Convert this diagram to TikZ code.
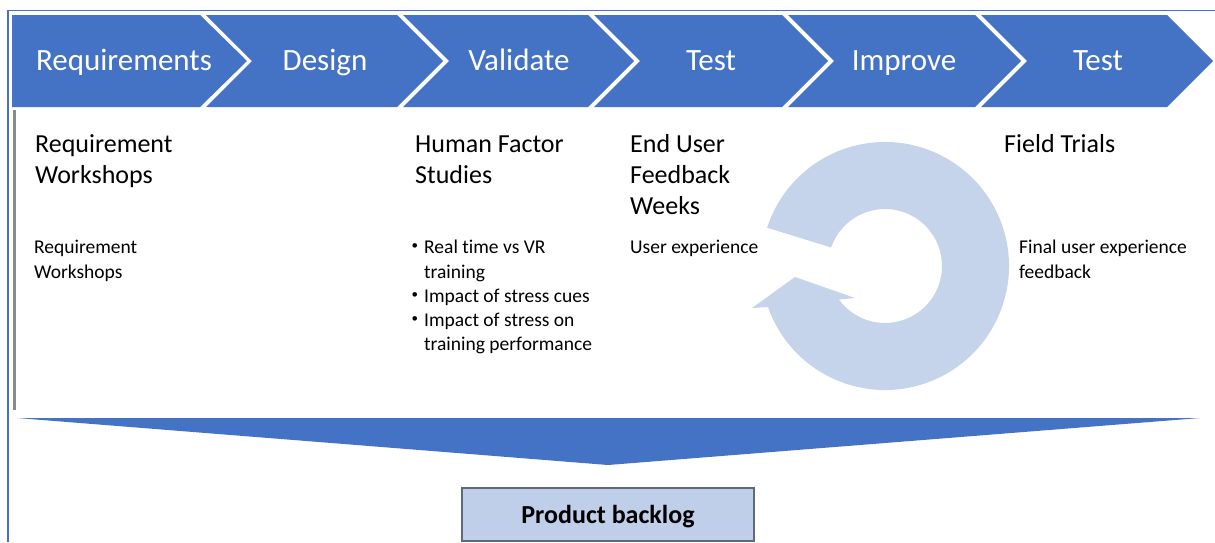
\documentclass[tikz,border=0pt]{standalone}
\usepackage{fontspec}
\setmainfont{Carlito}[Ligatures=NoCommon]
\usetikzlibrary{calc}
\definecolor{chevblue}{HTML}{4472C4}
\definecolor{ringblue}{HTML}{C5D3EB}
\definecolor{boxfill}{HTML}{BFCFEA}
\definecolor{boxline}{HTML}{5E6A78}
\definecolor{railgray}{HTML}{8A8A8A}
\begin{document}
\begin{tikzpicture}[x=1pt,y=-1pt,
  phase/.style={text=white, font=\fontsize{31}{37}\selectfont, anchor=base, inner sep=0},
  heading/.style={font=\fontsize{26}{31}\selectfont, anchor=base west, inner sep=0},
  note/.style={font=\fontsize{19.5}{24}\selectfont, anchor=base west, inner sep=0},
  bulletmark/.style={font=\fontsize{13}{15}\selectfont, anchor=base west, inner sep=0},
  backlogbox/.style={draw=boxline, fill=boxfill, line width=1.2pt, minimum width=292pt,
    minimum height=53pt, inner sep=0, font=\bfseries\fontsize{26}{30}\selectfont}]
\useasboundingbox (0,0) rectangle (1215,542);
\fill[white] (0,0) rectangle (1215,542);

% outer frame (left and top edges)
\draw[chevblue, line width=1.5pt] (8,542) -- (8,10.5) -- (1215,10.5);

% process chevrons
\fill[chevblue] (12,15) -- (200,15) -- (247,61) -- (200,107) -- (12,107) -- cycle;
\foreach \l/\r in {206/397, 403/588, 594/782, 788/975, 981/1167}
  \fill[chevblue] (\l,15) -- (\r,15) -- ({\r+46},61) -- (\r,107) -- (\l,107) -- ({\l+46},61) -- cycle;

\node[phase] (p1) at (124,70) {Requirements};
\node[phase] (p2) at (325,70) {Design};
\node[phase] (p3) at (519,70) {Validate};
\node[phase] (p4) at (711,70) {Test};
\node[phase] (p5) at (904,70) {Improve};
\node[phase] (p6) at (1098,70) {Test};

% grey rail on the left
\draw[railgray, line width=2.5pt] (14.5,110) -- (14.5,410);

% circular feedback arrow
\coordinate (c) at (885,266);
\fill[ringblue] ($(c)+(-162:124)$) -- ($(c)+(-161:57)$)
  arc[start angle=-161, end angle=144, radius=57]
  -- (855,298) -- (795,277) -- (752,308) -- ($(c)+(-199.3:124)$)
  arc[start angle=-199.3, end angle=-522, radius=124] -- cycle;

% headings
\node[heading] (h1a) at (35,152) {Requirement};
\node[heading] (h1b) at (35,183) {Workshops};
\node[heading] (h2a) at (415,152) {Human Factor};
\node[heading] (h2b) at (415,183) {Studies};
\node[heading] (h3a) at (630,152) {End User};
\node[heading] (h3b) at (630,183) {Feedback};
\node[heading] (h3c) at (630,214) {Weeks};
\node[heading] (h4a) at (1004,152) {Field Trials};

% notes
\node[note] (n1a) at (34,253) {Requirement};
\node[note] (n1b) at (34,278) {Workshops};
\node[bulletmark] (b1) at (411.5,249.5) {•};
\node[note] (n2a) at (424,253) {Real time vs VR};
\node[note] (n2b) at (424,278) {training};
\node[bulletmark] (b2) at (411.5,298.5) {•};
\node[note] (n2c) at (424,302) {Impact of stress cues};
\node[bulletmark] (b3) at (411.5,322.5) {•};
\node[note] (n2d) at (424,326) {Impact of stress on};
\node[note] (n2e) at (424,350) {training performance};
\node[note] (n3a) at (630,253) {User experience};
\node[note] (n4a) at (1019,253) {Final user experience};
\node[note] (n4b) at (1019,278) {feedback};

% funnel into the backlog
\fill[chevblue] (17,418) -- (1200,418) -- (608,465) -- cycle;
\node[backlogbox] (backlog) at (608,514.5) {\raisebox{-8.5pt}[0pt][0pt]{Product backlog}};
\end{tikzpicture}
\end{document}
